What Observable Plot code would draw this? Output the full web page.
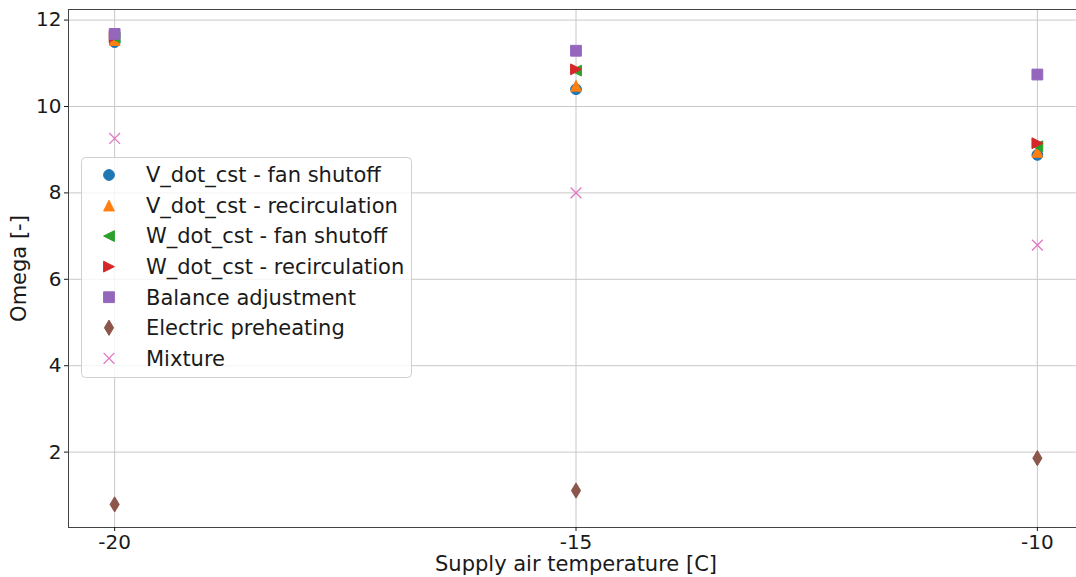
<!DOCTYPE html>
<html>
<head>
<meta charset="utf-8">
<script src="https://cdn.jsdelivr.net/npm/d3@7"></script>
<script src="https://cdn.jsdelivr.net/npm/@observablehq/plot@0.6"></script>
<style>
  html, body { margin: 0; padding: 0; background: white; }
  #chart { position: relative; width: 1076px; height: 577px; overflow: hidden; }
</style>
</head>
<body>
<div id="chart"></div>
<script>
// ---- data ----
const temps = [-20, -15, -10];
const xTickLabels = ["-20", "-15", "-10"];
const yTicks = [2, 4, 6, 8, 10, 12];

const seriesNames = [
  "V_dot_cst - fan shutoff",
  "V_dot_cst - recirculation",
  "W_dot_cst - fan shutoff",
  "W_dot_cst - recirculation",
  "Balance adjustment",
  "Electric preheating",
  "Mixture"
];
const vDotFanShutoff   = [11.49, 10.40, 8.88];
const vDotRecirc       = [11.54, 10.48, 8.95];
const wDotFanShutoff   = [11.60, 10.83, 9.08];
const wDotRecirc       = [11.62, 10.86, 9.15];
const balanceAdjust    = [11.68, 11.29, 10.74];
const electricPreheat  = [0.79, 1.11, 1.86];
const mixture          = [9.26, 8.00, 6.79];
const seriesColors = ["#1f77b4", "#ff7f0e", "#2ca02c", "#d62728", "#9467bd", "#8c564b", "#e377c2"];

// ---- marker shapes (matplotlib-like) ----
const rad = (size) => Math.sqrt(size / Math.PI);
const symCircle = {draw(c, s) { const r = rad(s); c.moveTo(r, 0); c.arc(0, 0, r, 0, 2 * Math.PI); c.closePath(); }};
const symTriUp = {draw(c, s) { const r = rad(s); c.moveTo(0, -r); c.lineTo(r, r); c.lineTo(-r, r); c.closePath(); }};
const symTriLeft = {draw(c, s) { const r = rad(s); c.moveTo(-r, 0); c.lineTo(r, -r); c.lineTo(r, r); c.closePath(); }};
const symTriRight = {draw(c, s) { const r = rad(s); c.moveTo(r, 0); c.lineTo(-r, -r); c.lineTo(-r, r); c.closePath(); }};
const symSquare = {draw(c, s) { const r = rad(s); c.moveTo(-r, -r); c.lineTo(r, -r); c.lineTo(r, r); c.lineTo(-r, r); c.closePath(); }};
const symThinDiamond = {draw(c, s) { const r = rad(s) * 1.414; c.moveTo(0, -r); c.lineTo(0.6 * r, 0); c.lineTo(0, r); c.lineTo(-0.6 * r, 0); c.closePath(); }};
const symX = {draw(c, s) { const r = rad(s); c.moveTo(-r, -r); c.lineTo(r, r); c.moveTo(r, -r); c.lineTo(-r, r); }};

const seriesValues = [vDotFanShutoff, vDotRecirc, wDotFanShutoff, wDotRecirc, balanceAdjust, electricPreheat, mixture];
const seriesSymbols = [symCircle, symTriUp, symTriLeft, symTriRight, symSquare, symThinDiamond, symX];
const seriesFilled = [true, true, true, true, true, true, false];

const series = seriesNames.map((name, i) => ({
  name, color: seriesColors[i], symbol: seriesSymbols[i], filled: seriesFilled[i],
  data: temps.map((t, j) => ({temp: t, omega: seriesValues[i][j]}))
}));

const R = 5.4;

const dotMarks = series.map(s => Plot.dot(s.data, {
  x: "temp", y: "omega", r: R, symbol: s.symbol,
  fill: s.filled ? s.color : "none",
  stroke: s.color,
  strokeWidth: s.filled ? 1 : 1.3
}));

const chart = Plot.plot({
  width: 1076,
  height: 577,
  marginLeft: 68,
  marginRight: -7,
  marginTop: 9,
  marginBottom: 50,
  style: {fontFamily: "'DejaVu Sans', sans-serif", fontSize: "20px", color: "#1a1a1a", background: "white", overflow: "visible"},
  x: {domain: [-20.5, -9.5]},
  y: {domain: [0.255, 12.245]},
  marks: [
    Plot.gridX(temps, {stroke: "#c8c8c8", strokeOpacity: 1, strokeWidth: 1}),
    Plot.gridY(yTicks, {stroke: "#c8c8c8", strokeOpacity: 1, strokeWidth: 1}),
    Plot.frame({stroke: "#444", strokeWidth: 1}),
    Plot.axisX({ticks: temps, tickFormat: (d, i) => xTickLabels[i], tickSize: 4, tickPadding: 3,
      label: "Supply air temperature [C]", labelAnchor: "center", labelArrow: "none", labelOffset: 43}),
    Plot.axisY({ticks: yTicks, tickFormat: d => String(d), tickSize: 4, tickPadding: 3,
      label: "Omega [-]", labelAnchor: "center", labelArrow: "none", labelOffset: 57}),
    ...dotMarks
  ]
});

document.getElementById("chart").appendChild(chart);

// enlarge the axis titles slightly (matplotlib label size)
d3.select(chart).selectAll('g[aria-label="x-axis label"] text, g[aria-label="y-axis label"] text')
  .attr("font-size", 21);

// ---- legend (matplotlib-style box) ----
const svg = d3.select(chart);
const lg = svg.append("g")
  .attr("font-family", "'DejaVu Sans', sans-serif")
  .attr("font-size", 21)
  .attr("text-anchor", "start");
lg.append("rect")
  .attr("x", 81.5).attr("y", 157.5).attr("width", 330).attr("height", 220)
  .attr("rx", 4).attr("fill", "white").attr("fill-opacity", 0.8)
  .attr("stroke", "#d0d0d0").attr("stroke-width", 1);
const rowY0 = 175, rowDy = 30.55;
series.forEach((s, i) => {
  const y = rowY0 + i * rowDy;
  lg.append("path")
    .attr("transform", `translate(109,${y})`)
    .attr("d", d3.symbol().type(s.symbol).size(Math.PI * R * R)())
    .attr("fill", s.filled ? s.color : "none")
    .attr("stroke", s.color)
    .attr("stroke-width", s.filled ? 1 : 1.3);
  lg.append("text")
    .attr("x", 146).attr("y", y).attr("dy", "0.35em")
    .attr("text-anchor", "start")
    .attr("fill", "#1a1a1a")
    .text(s.name);
});
</script>
</body>
</html>
